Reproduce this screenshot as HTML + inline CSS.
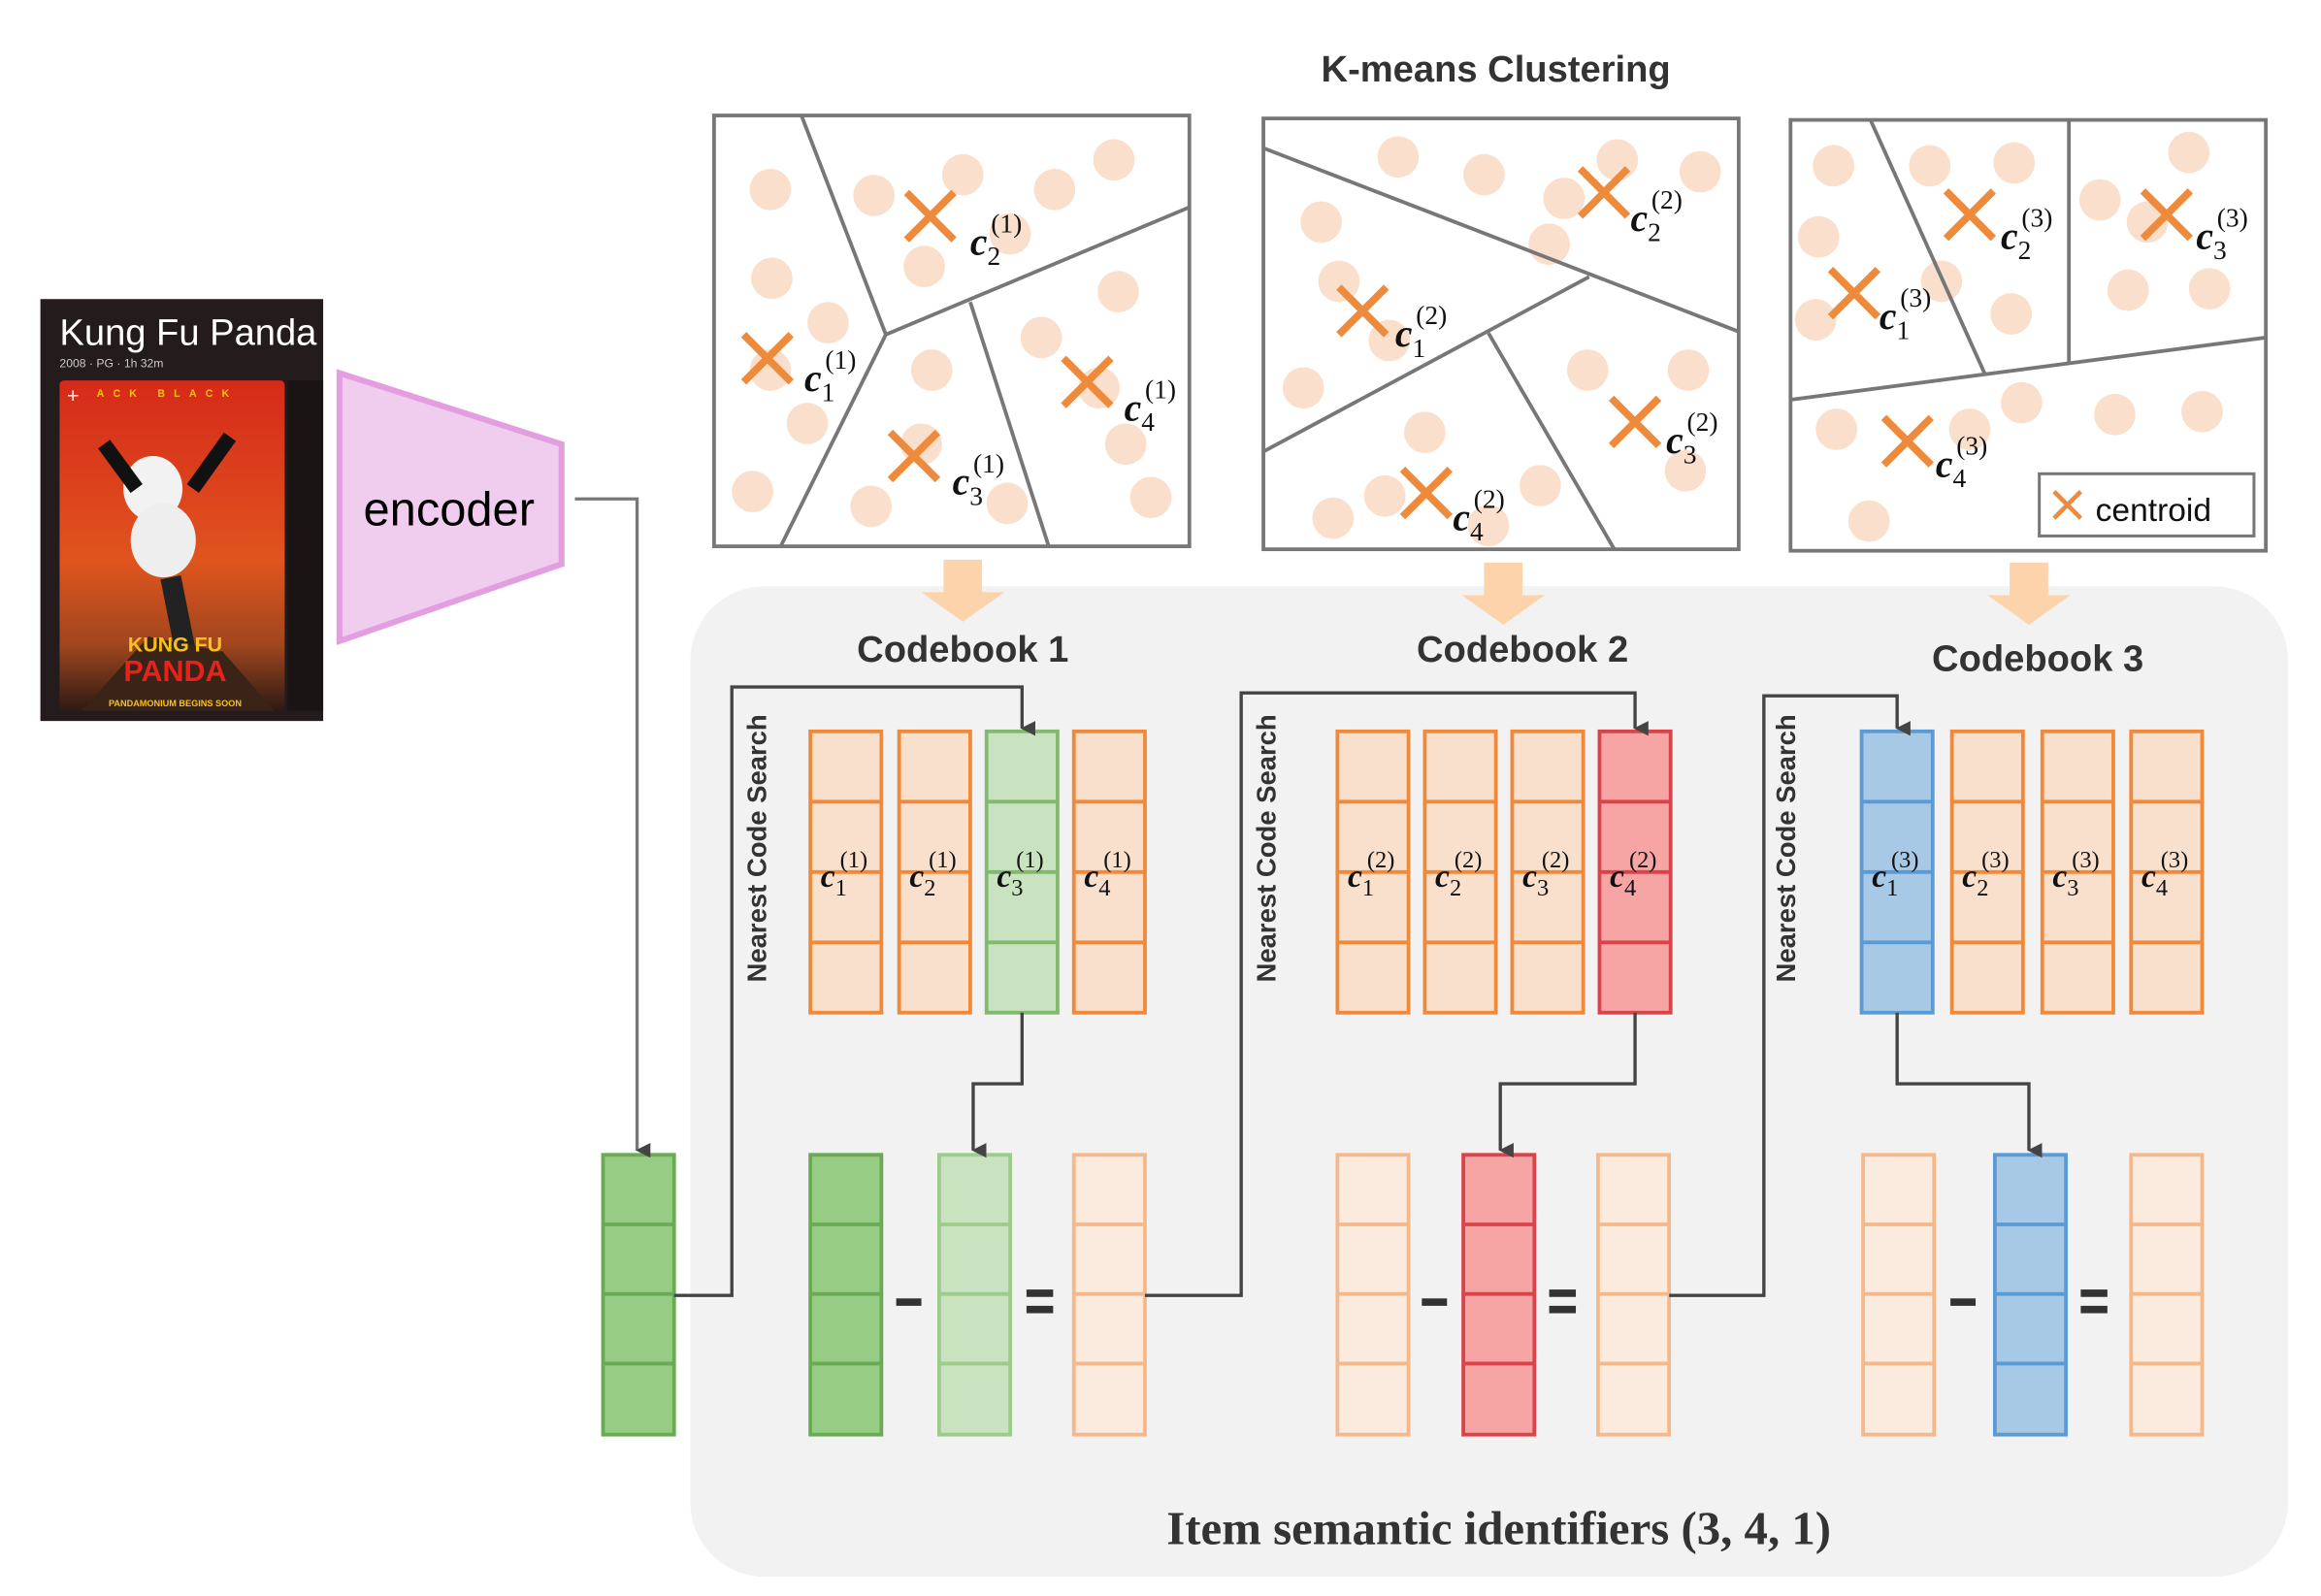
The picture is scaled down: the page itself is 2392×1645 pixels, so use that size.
<!DOCTYPE html>
<html><head><meta charset="utf-8"><style>
html,body{margin:0;padding:0;background:#fff}
svg{display:block}
.c{font-family:"Liberation Serif",serif;font-weight:bold;font-style:italic;fill:#111}
.s{font-style:normal;font-weight:normal}
.t{font-family:"Liberation Sans",sans-serif;font-weight:bold;fill:#333}
</style></head><body>
<svg width="2392" height="1645" viewBox="0 0 1567 1078" xmlns="http://www.w3.org/2000/svg">
<defs>
<marker id="ar" markerWidth="10" markerHeight="10" refX="5" refY="9" orient="auto" markerUnits="userSpaceOnUse"><path d="M0,0 L10,0 L5,10 Z" fill="#444"/></marker>
<linearGradient id="pg" x1="0" y1="0" x2="0" y2="1"><stop offset="0" stop-color="#d62a1a"/><stop offset="0.55" stop-color="#e0541e"/><stop offset="0.8" stop-color="#a0461e"/><stop offset="1" stop-color="#2e1a14"/></linearGradient>
</defs>
<rect x="466" y="396" width="1079" height="669" rx="50" fill="#f2f2f2"/>
<rect x="27" y="202" width="191" height="285" fill="#241c1c"/>
<text x="40" y="233" font-family="Liberation Sans,sans-serif" font-size="25" fill="#fff">Kung Fu Panda</text>
<text x="40" y="248" font-family="Liberation Sans,sans-serif" font-size="8" fill="#ccc">2008 · PG · 1h 32m</text>
<rect x="40" y="257" width="152" height="223" rx="3" fill="url(#pg)"/>
<rect x="194" y="257" width="24" height="223" fill="#1a1414"/>
<ellipse cx="103" cy="330" rx="20" ry="22" fill="#f2f2f2"/>
<ellipse cx="110" cy="365" rx="22" ry="25" fill="#eee"/>
<path d="M70,300 L92,330 M130,330 L155,295" stroke="#111" stroke-width="10"/>
<path d="M115,390 L125,440" stroke="#222" stroke-width="14"/>
<path d="M55,480 L100,430 L150,440 L185,480Z" fill="#3a2418"/>
<text x="118" y="440" text-anchor="middle" font-family="Liberation Sans,sans-serif" font-weight="bold" font-size="14" fill="#f6c21a">KUNG FU</text>
<text x="118" y="460" text-anchor="middle" font-family="Liberation Sans,sans-serif" font-weight="bold" font-size="20" fill="#e8221a">PANDA</text>
<text x="45" y="272" font-family="Liberation Sans,sans-serif" font-size="14" fill="#fff">+</text>
<text x="65" y="268" font-family="Liberation Sans,sans-serif" font-weight="bold" font-size="7" fill="#f6c21a" letter-spacing="6">ACK BLACK</text>
<text x="118" y="477" text-anchor="middle" font-family="Liberation Sans,sans-serif" font-weight="bold" font-size="6" fill="#f6c21a">PANDAMONIUM BEGINS SOON</text>
<polygon points="229,252 379,300 379,381 229,433" fill="#f0cdef" stroke="#e39ee0" stroke-width="4"/>
<text x="303" y="355" text-anchor="middle" font-family="Liberation Sans,sans-serif" font-size="32" fill="#000">encoder</text>

<text x="1010" y="55" text-anchor="middle" class="t" font-size="25" fill="#222">K-means Clustering</text>

<g fill="#fae0cc">
<circle cx="520" cy="128" r="14"/><circle cx="590" cy="132" r="14"/><circle cx="650" cy="118" r="14"/><circle cx="712" cy="128" r="14"/><circle cx="752" cy="108" r="14"/><circle cx="624" cy="180" r="14"/><circle cx="521" cy="188" r="14"/><circle cx="559" cy="218" r="14"/><circle cx="545" cy="286" r="14"/><circle cx="508" cy="332" r="14"/><circle cx="629" cy="250" r="14"/><circle cx="588" cy="342" r="14"/><circle cx="680" cy="340" r="14"/><circle cx="755" cy="197" r="14"/><circle cx="703" cy="228" r="14"/><circle cx="760" cy="300" r="14"/><circle cx="777" cy="336" r="14"/><circle cx="622" cy="300" r="14"/><circle cx="742" cy="262" r="14"/><circle cx="682" cy="158" r="14"/><circle cx="520" cy="250" r="14"/>
</g>
<g stroke="#777" stroke-width="2.5" fill="none">
<rect x="482" y="78" width="321" height="291"/>
<path d="M541,78 L598,226 L803,140 M598,226 L527,369 M655,204 L708,369"/>
</g>
<g fill="#fae0cc">
<circle cx="944" cy="106" r="14"/><circle cx="1002" cy="118" r="14"/><circle cx="1092" cy="108" r="14"/><circle cx="1148" cy="116" r="14"/><circle cx="1056" cy="134" r="14"/><circle cx="892" cy="150" r="14"/><circle cx="1046" cy="165" r="14"/><circle cx="904" cy="190" r="14"/><circle cx="938" cy="230" r="14"/><circle cx="880" cy="262" r="14"/><circle cx="1072" cy="250" r="14"/><circle cx="1140" cy="250" r="14"/><circle cx="1138" cy="318" r="14"/><circle cx="962" cy="292" r="14"/><circle cx="900" cy="350" r="14"/><circle cx="935" cy="335" r="14"/><circle cx="1040" cy="328" r="14"/><circle cx="1005" cy="355" r="14"/>
</g>
<g stroke="#777" stroke-width="2.5" fill="none">
<rect x="853" y="80" width="321" height="291"/>
<path d="M853,100 L1174,224 M1073,187 L853,305 M1005,225 L1090,371"/>
</g>
<g fill="#fae0cc">
<circle cx="1238" cy="112" r="14"/><circle cx="1303" cy="112" r="14"/><circle cx="1360" cy="110" r="14"/><circle cx="1418" cy="135" r="14"/><circle cx="1478" cy="103" r="14"/><circle cx="1228" cy="160" r="14"/><circle cx="1311" cy="190" r="14"/><circle cx="1358" cy="212" r="14"/><circle cx="1437" cy="196" r="14"/><circle cx="1492" cy="195" r="14"/><circle cx="1226" cy="216" r="14"/><circle cx="1365" cy="272" r="14"/><circle cx="1428" cy="280" r="14"/><circle cx="1487" cy="278" r="14"/><circle cx="1240" cy="290" r="14"/><circle cx="1330" cy="290" r="14"/><circle cx="1262" cy="352" r="14"/><circle cx="1450" cy="150" r="14"/>
</g>
<g stroke="#777" stroke-width="2.5" fill="none">
<rect x="1209" y="81" width="321" height="291"/>
<path d="M1263,81 L1340,252 M1397,81 L1397,245 M1209,270 L1530,228"/>
<rect x="1377" y="320" width="145" height="42" stroke-width="2"/>
</g>
<g stroke="#ee8a3c" stroke-width="5" stroke-linecap="butt">
<path d="M612,130 L644,162 M644,130 L612,162"/>
<path d="M502,226 L534,258 M534,226 L502,258"/>
<path d="M601,292 L633,324 M633,292 L601,324"/>
<path d="M718,242 L750,274 M750,242 L718,274"/>
<path d="M1067,114 L1099,146 M1099,114 L1067,146"/>
<path d="M904,194 L936,226 M936,194 L904,226"/>
<path d="M1088,269 L1120,301 M1120,269 L1088,301"/>
<path d="M947,317 L979,349 M979,317 L947,349"/>
<path d="M1314,129 L1346,161 M1346,129 L1314,161"/>
<path d="M1447,129 L1479,161 M1479,129 L1447,161"/>
<path d="M1236,182 L1268,214 M1268,182 L1236,214"/>
<path d="M1272,282 L1304,314 M1304,282 L1272,314"/>
<path d="M1387,332 L1405,350 M1405,332 L1387,350" stroke-width="3"/>
</g>
<text x="1415" y="352" font-family="Liberation Sans,sans-serif" font-size="22" fill="#111">centroid</text>
<g font-size="26">
<text x="655" y="172" class="c">c<tspan class="s" font-size="18" dy="7">2</tspan><tspan class="s" font-size="18" x="669" dy="-22">(1)</tspan></text>
<text x="543" y="264" class="c">c<tspan class="s" font-size="18" dy="7">1</tspan><tspan class="s" font-size="18" x="557" dy="-22">(1)</tspan></text>
<text x="643" y="334" class="c">c<tspan class="s" font-size="18" dy="7">3</tspan><tspan class="s" font-size="18" x="657" dy="-22">(1)</tspan></text>
<text x="759" y="284" class="c">c<tspan class="s" font-size="18" dy="7">4</tspan><tspan class="s" font-size="18" x="773" dy="-22">(1)</tspan></text>
<text x="1101" y="156" class="c">c<tspan class="s" font-size="18" dy="7">2</tspan><tspan class="s" font-size="18" x="1115" dy="-22">(2)</tspan></text>
<text x="942" y="234" class="c">c<tspan class="s" font-size="18" dy="7">1</tspan><tspan class="s" font-size="18" x="956" dy="-22">(2)</tspan></text>
<text x="1125" y="306" class="c">c<tspan class="s" font-size="18" dy="7">3</tspan><tspan class="s" font-size="18" x="1139" dy="-22">(2)</tspan></text>
<text x="981" y="358" class="c">c<tspan class="s" font-size="18" dy="7">4</tspan><tspan class="s" font-size="18" x="995" dy="-22">(2)</tspan></text>
<text x="1351" y="168" class="c">c<tspan class="s" font-size="18" dy="7">2</tspan><tspan class="s" font-size="18" x="1365" dy="-22">(3)</tspan></text>
<text x="1483" y="168" class="c">c<tspan class="s" font-size="18" dy="7">3</tspan><tspan class="s" font-size="18" x="1497" dy="-22">(3)</tspan></text>
<text x="1269" y="222" class="c">c<tspan class="s" font-size="18" dy="7">1</tspan><tspan class="s" font-size="18" x="1283" dy="-22">(3)</tspan></text>
<text x="1307" y="322" class="c">c<tspan class="s" font-size="18" dy="7">4</tspan><tspan class="s" font-size="18" x="1321" dy="-22">(3)</tspan></text>
</g>
<g fill="#fdd3ab">
<polygon points="637,378 663,378 663,400 678,400 650,420 622,400 637,400"/>
<polygon points="1002,380 1028,380 1028,402 1043,402 1015,422 987,402 1002,402"/>
<polygon points="1357,380 1383,380 1383,402 1398,402 1370,422 1342,402 1357,402"/>
</g>
<text x="650" y="447" text-anchor="middle" class="t" font-size="25">Codebook 1</text>
<text x="1028" y="447" text-anchor="middle" class="t" font-size="25">Codebook 2</text>
<text x="1376" y="453" text-anchor="middle" class="t" font-size="25">Codebook 3</text>

<g stroke-width="2.5">
<g fill="#f8e0cd" stroke="#f08a3a">
<rect x="547" y="494" width="48" height="190"/><rect x="607" y="494" width="48" height="190"/><rect x="725" y="494" width="48" height="190"/>
<rect x="903" y="494" width="48" height="190"/><rect x="962" y="494" width="48" height="190"/><rect x="1021" y="494" width="48" height="190"/>
<rect x="1318" y="494" width="48" height="190"/><rect x="1379" y="494" width="48" height="190"/><rect x="1439" y="494" width="48" height="190"/>
<path d="M547,541.5h48M547,589h48M547,636.5h48 M607,541.5h48M607,589h48M607,636.5h48 M725,541.5h48M725,589h48M725,636.5h48 M903,541.5h48M903,589h48M903,636.5h48 M962,541.5h48M962,589h48M962,636.5h48 M1021,541.5h48M1021,589h48M1021,636.5h48 M1318,541.5h48M1318,589h48M1318,636.5h48 M1379,541.5h48M1379,589h48M1379,636.5h48 M1439,541.5h48M1439,589h48M1439,636.5h48"/>
</g>
<g fill="#c9e3c0" stroke="#82b96e"><rect x="666" y="494" width="48" height="190"/><path d="M666,541.5h48M666,589h48M666,636.5h48"/></g>
<g fill="#f6a4a4" stroke="#d9434a"><rect x="1080" y="494" width="48" height="190"/><path d="M1080,541.5h48M1080,589h48M1080,636.5h48"/></g>
<g fill="#a7c9e6" stroke="#5b9bd5"><rect x="1257" y="494" width="48" height="190"/><path d="M1257,541.5h48M1257,589h48M1257,636.5h48"/></g>

<g fill="#97cc84" stroke="#6aaa55">
<rect x="407" y="780" width="48" height="189"/><path d="M407,827h48M407,874h48M407,921h48"/>
<rect x="547" y="780" width="48" height="189"/><path d="M547,827h48M547,874h48M547,921h48"/>
</g>
<g fill="#c9e3c0" stroke="#9ccb8b"><rect x="634" y="780" width="48" height="189"/><path d="M634,827h48M634,874h48M634,921h48"/></g>
<g fill="#fbebdf" stroke="#f5b88a">
<rect x="725" y="780" width="48" height="189"/><path d="M725,827h48M725,874h48M725,921h48"/>
<rect x="903" y="780" width="48" height="189"/><path d="M903,827h48M903,874h48M903,921h48"/>
<rect x="1079" y="780" width="48" height="189"/><path d="M1079,827h48M1079,874h48M1079,921h48"/>
<rect x="1258" y="780" width="48" height="189"/><path d="M1258,827h48M1258,874h48M1258,921h48"/>
<rect x="1439" y="780" width="48" height="189"/><path d="M1439,827h48M1439,874h48M1439,921h48"/>
</g>
<g fill="#f6a4a4" stroke="#d9434a"><rect x="988" y="780" width="48" height="189"/><path d="M988,827h48M988,874h48M988,921h48"/></g>
<g fill="#a7c9e6" stroke="#5b9bd5"><rect x="1347" y="780" width="48" height="189"/><path d="M1347,827h48M1347,874h48M1347,921h48"/></g>
</g>
<g fill="#333">
<rect x="605" y="877" width="17" height="5"/><rect x="693" y="871" width="18" height="5"/><rect x="693" y="882" width="18" height="5"/>
<rect x="960" y="877" width="17" height="5"/><rect x="1046" y="871" width="18" height="5"/><rect x="1046" y="882" width="18" height="5"/>
<rect x="1317" y="877" width="17" height="5"/><rect x="1405" y="871" width="18" height="5"/><rect x="1405" y="882" width="18" height="5"/>
</g>

<g font-size="22">
<text x="554" y="599" class="c">c<tspan class="s" font-size="16" dy="6">1</tspan><tspan class="s" font-size="16" x="567" dy="-19">(1)</tspan></text>
<text x="614" y="599" class="c">c<tspan class="s" font-size="16" dy="6">2</tspan><tspan class="s" font-size="16" x="627" dy="-19">(1)</tspan></text>
<text x="673" y="599" class="c">c<tspan class="s" font-size="16" dy="6">3</tspan><tspan class="s" font-size="16" x="686" dy="-19">(1)</tspan></text>
<text x="732" y="599" class="c">c<tspan class="s" font-size="16" dy="6">4</tspan><tspan class="s" font-size="16" x="745" dy="-19">(1)</tspan></text>
<text x="910" y="599" class="c">c<tspan class="s" font-size="16" dy="6">1</tspan><tspan class="s" font-size="16" x="923" dy="-19">(2)</tspan></text>
<text x="969" y="599" class="c">c<tspan class="s" font-size="16" dy="6">2</tspan><tspan class="s" font-size="16" x="982" dy="-19">(2)</tspan></text>
<text x="1028" y="599" class="c">c<tspan class="s" font-size="16" dy="6">3</tspan><tspan class="s" font-size="16" x="1041" dy="-19">(2)</tspan></text>
<text x="1087" y="599" class="c">c<tspan class="s" font-size="16" dy="6">4</tspan><tspan class="s" font-size="16" x="1100" dy="-19">(2)</tspan></text>
<text x="1264" y="599" class="c">c<tspan class="s" font-size="16" dy="6">1</tspan><tspan class="s" font-size="16" x="1277" dy="-19">(3)</tspan></text>
<text x="1325" y="599" class="c">c<tspan class="s" font-size="16" dy="6">2</tspan><tspan class="s" font-size="16" x="1338" dy="-19">(3)</tspan></text>
<text x="1386" y="599" class="c">c<tspan class="s" font-size="16" dy="6">3</tspan><tspan class="s" font-size="16" x="1399" dy="-19">(3)</tspan></text>
<text x="1446" y="599" class="c">c<tspan class="s" font-size="16" dy="6">4</tspan><tspan class="s" font-size="16" x="1459" dy="-19">(3)</tspan></text>
</g>

<g stroke="#444" stroke-width="2.2" fill="none">
<path d="M388,337 H430 V777" stroke="#777" marker-end="url(#ar)"/>
<path d="M455,875 H494 V464 H690 V492" marker-end="url(#ar)"/>
<path d="M690,684 V732 H657 V777" marker-end="url(#ar)"/>
<path d="M773,875 H838 V468 H1104 V492" marker-end="url(#ar)"/>
<path d="M1104,684 V732 H1013 V777" marker-end="url(#ar)"/>
<path d="M1127,875 H1191 V470 H1281 V492" marker-end="url(#ar)"/>
<path d="M1281,684 V732 H1370 V777" marker-end="url(#ar)"/>
</g>
<g class="t" font-size="18">
<text transform="translate(517,573) rotate(-90)" text-anchor="middle">Nearest Code Search</text>
<text transform="translate(861,573) rotate(-90)" text-anchor="middle">Nearest Code Search</text>
<text transform="translate(1212,573) rotate(-90)" text-anchor="middle">Nearest Code Search</text>
</g>
<text x="1012" y="1043" text-anchor="middle" font-family="Liberation Serif,serif" font-weight="bold" font-size="32" fill="#333">Item semantic identifiers (3, 4, 1)</text>
</svg>
</body></html>
